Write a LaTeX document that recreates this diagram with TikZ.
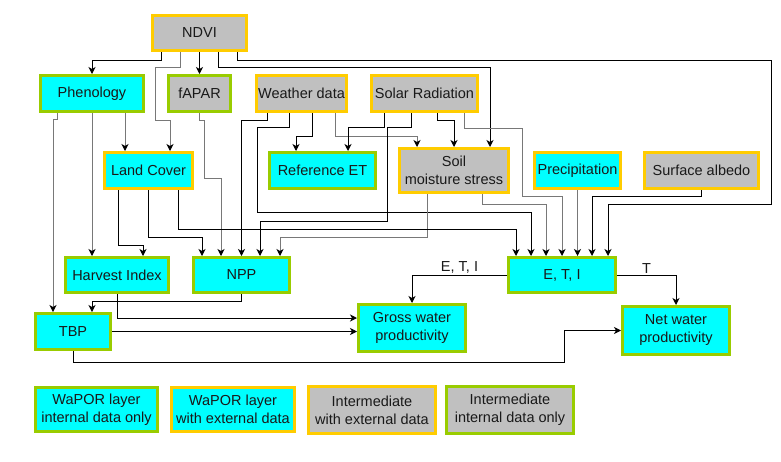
\documentclass[tikz,border=0pt]{standalone}
\usepackage{fontspec}
\setmainfont{Liberation Sans}
\usetikzlibrary{arrows.meta}
\definecolor{grn}{RGB}{153,204,0}
\definecolor{ylw}{RGB}{255,204,0}
\definecolor{gfill}{RGB}{192,192,192}
\definecolor{cy}{RGB}{0,255,255}
\definecolor{lgray}{RGB}{120,120,120}
\definecolor{txt}{RGB}{25,25,25}
\begin{document}
\begin{tikzpicture}[x=1pt,y=-1pt,
  box/.style={rectangle, line width=3pt, inner sep=1pt, align=center,
    font=\fontsize{14.5}{18}\selectfont, text=txt},
  cyg/.style={box, fill=cy, draw=grn},
  cyy/.style={box, fill=cy, draw=ylw},
  gry/.style={box, fill=gfill, draw=ylw},
  grg/.style={box, fill=gfill, draw=grn},
  sz/.style n args={2}{minimum width=#1, minimum height=#2},
  conn/.style={line width=1pt, draw=black, -{Stealth[length=7pt,width=7pt,inset=2pt,color=black]}},
  gconn/.style={conn, draw=lgray},
  lbl/.style={font=\fontsize{14.5}{18}\selectfont, text=txt, inner sep=1.5pt}]
\useasboundingbox (0,0) rectangle (781,461);

% nodes
\node[gry, sz={94}{35}] (NDVI) at (199.5,33) {NDVI};
\node[cyg, sz={103}{36}] (Phen) at (92,93.5) {Phenology};
\node[grg, sz={62}{36}] (fAPAR) at (199.5,93.5) {fAPAR};
\node[gry, sz={90}{36}] (Weather) at (301.5,93.5) {Weather data};
\node[gry, sz={106}{36}] (Solar) at (424.5,93.5) {Solar Radiation};
\node[cyy, sz={88}{36}] (LC) at (148.5,170.5) {Land Cover};
\node[cyg, sz={106}{36}] (RET) at (322.5,170.5) {Reference ET};
\node[gry, sz={109}{44}] (Soil) at (454,170.5) {Soil\\moisture stress};
\node[cyy, sz={86}{36}] (Prec) at (577.5,170.5) {Precipitation};
\node[gry, sz={114}{36}] (Alb) at (701.5,170.5) {Surface albedo};
\node[cyg, sz={103}{35}] (HI) at (117,275) {Harvest Index};
\node[cyg, sz={96}{35}] (NPP) at (241.5,275) {NPP};
\node[cyg, sz={107}{35}] (ETI) at (562,275) {E, T, I};
\node[cyg, sz={75}{36}] (TBP) at (73,331.5) {TBP};
\node[cyg, sz={107}{47}] (Gross) at (412,328) {Gross water\\productivity};
\node[cyg, sz={107}{48}] (Net) at (676,330.5) {Net water\\productivity};

% legend
\node[cyg, sz={122}{44}] (L1) at (96.5,409.5) {WaPOR layer\\internal data only};
\node[cyy, sz={123}{44}] (L2) at (233,409.5) {WaPOR layer\\with external data};
\node[gry, sz={127}{47}] (L3) at (372,410) {Intermediate\\with external data};
\node[grg, sz={127}{47}] (L4) at (510,410) {Intermediate\\internal data only};

% connectors from NDVI
\draw[conn] ([xshift=-38.5]NDVI.south) -- ++(0,8) -| (Phen.north);
\draw[gconn] ([xshift=-19.5]NDVI.south) |- (155,67) |- (170,120) -- ([xshift=21.5]LC.north);
\draw[conn] (NDVI.south) -- (fAPAR.north);
\draw[conn] ([xshift=18.5]NDVI.south) |- (490,67) -- ([xshift=36]Soil.north);
\draw[conn] ([xshift=37.5]NDVI.south) |- (771,60) |- (608,204) -- ([xshift=46]ETI.north);

% from Phenology
\draw[gconn] ([xshift=-35]Phen.south) |- (53,119) -- ([xshift=-20]TBP.north);
\draw[gconn] (Phen.south) -- ([xshift=-25]HI.north);
\draw[gconn] ([xshift=33]Phen.south) -- ([xshift=-23.5]LC.north);

% from fAPAR
\draw[gconn] (fAPAR.south) |- (204,120) |- (221,178) -- ([xshift=-20.5]NPP.north);

% from Weather data
\draw[conn] ([xshift=-34.5]Weather.south) -- ++(0,7) -| (NPP.north);
\draw[conn] ([xshift=-12.5]Weather.south) |- (257,127) |- (531,212) -- ([xshift=-31]ETI.north);
\draw[conn] ([xshift=10.5]Weather.south) -- ++(0,23) -| ([xshift=-26.5]RET.north);
\draw[gconn] ([xshift=33.5]Weather.south) -- ++(0,23) -| ([xshift=-37]Soil.north);

% from Solar Radiation
\draw[conn] ([xshift=-40.5]Solar.south) -- ++(0,14) -| ([xshift=25.5]RET.north);
\draw[conn] ([xshift=-13.5]Solar.south) |- (387,127) |- (260,221) -- ([xshift=18.5]NPP.north);
\draw[conn] ([xshift=12.5]Solar.south) -- ++(0,7) -| (Soil.north);
\draw[gconn] ([xshift=39.5]Solar.south) |- (522,128) |- (562,196) -- (ETI.north);

% from Soil moisture stress
\draw[gconn] ([xshift=-27]Soil.south) |- (280,237) -- ([xshift=38.5]NPP.north);
\draw[gconn] ([xshift=28]Soil.south) -- ++(0,10) -| ([xshift=-16]ETI.north);

% from Land Cover
\draw[conn] ([xshift=-30.5]LC.south) |- (143,245) -- ([xshift=26]HI.north);
\draw[conn] (LC.south) |- (202,237) -- ([xshift=-39.5]NPP.north);
\draw[conn] ([xshift=29.5]LC.south) |- (516,229) -- ([xshift=-46]ETI.north);

% Precipitation, albedo
\draw[gconn] (Prec.south) -- (Prec.south |- ETI.north);
\draw[conn] (Alb.south) |- (592,196) -- ([xshift=30]ETI.north);

% lower part
\draw[conn] (NPP.south) |- (92,301) -- ([xshift=19]TBP.north);
\draw[conn] (HI.south) |- ([yshift=10]Gross.west);
\draw[conn] (TBP.east) -- (TBP.east -| Gross.west);
\draw[conn] (TBP.south) |- (564,362) |- (Net.west);
\draw[conn] (ETI.west) -| node[lbl, pos=0.25, above] (lab1) {E, T, I} (Gross.north);
\draw[conn] (ETI.east) -| node[lbl, pos=0.25, above] (lab2) {T} (Net.north);
\end{tikzpicture}
\end{document}
